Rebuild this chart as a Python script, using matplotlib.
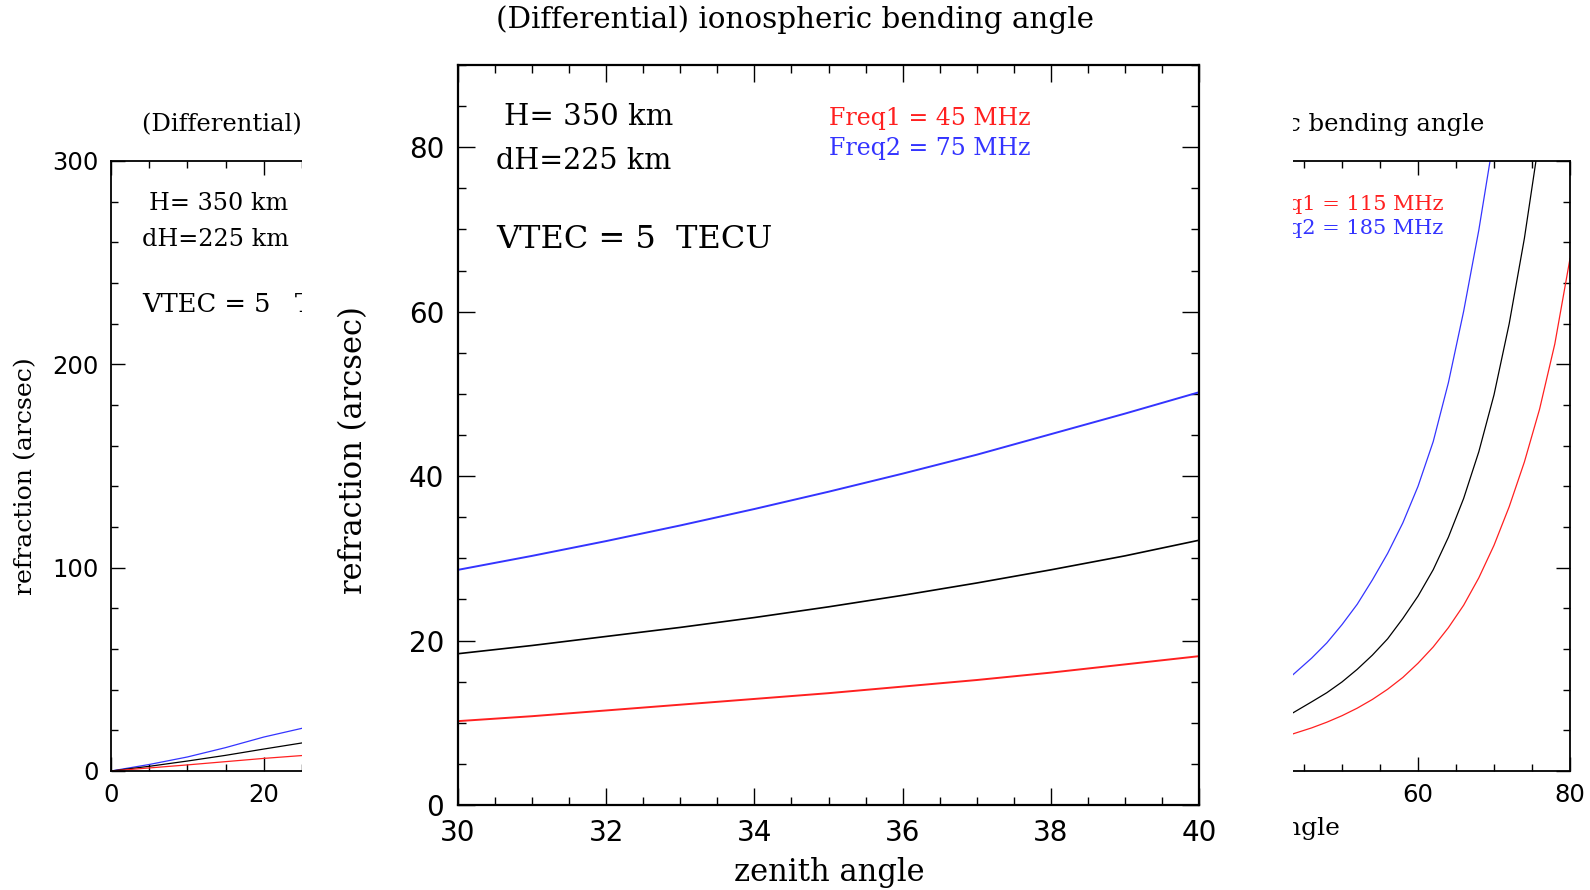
import matplotlib.pyplot as plt
from matplotlib.patches import Rectangle
from matplotlib.ticker import MultipleLocator

W, H = 1590, 890

# background chart (115 / 185 MHz), only its two outer pieces are visible
bg_blue_x = [0, 5, 10, 15, 20, 25, 43.5, 46, 48, 50, 52, 54, 56, 58, 60, 62, 64, 66, 68, 70]
bg_blue_y = [0, 3.2, 6.9, 11.5, 16.7, 21.0, 47.2, 55.5, 63, 72, 82, 94, 107, 122, 140, 162, 191, 226, 266, 312]
bg_black_x = [0, 5, 10, 15, 20, 25, 43.5, 46, 48, 50, 52, 54, 56, 58, 60, 62, 64, 66, 68, 70, 72, 74, 76]
bg_black_y = [0, 2.3, 4.9, 7.7, 10.8, 13.8, 28.5, 34, 38.5, 43.8, 50, 57, 65, 75, 86, 99, 115, 134, 157, 185, 220, 262, 312]
bg_red_x = [0, 5, 10, 15, 20, 25, 43.5, 46, 48, 50, 52, 54, 56, 58, 60, 62, 64, 66, 68, 70, 72, 74, 76, 78, 80]
bg_red_y = [0, 1.5, 3.0, 4.6, 6.2, 7.6, 18.2, 21.2, 24, 27.2, 30.9, 35.2, 40.2, 46, 53, 61, 70.5, 81.5, 95, 111, 130, 152, 178, 210, 252]

# zoomed chart (45 / 75 MHz), zenith angle 30..40
zx = [30, 31, 32, 33, 34, 35, 36, 37, 38, 39, 40]
z_blue = [28.6, 30.3, 32.1, 34.0, 36.0, 38.1, 40.3, 42.6, 45.1, 47.6, 50.2]
z_black = [18.4, 19.4, 20.5, 21.6, 22.8, 24.1, 25.5, 27.0, 28.6, 30.3, 32.2]
z_red = [10.2, 10.8, 11.5, 12.2, 12.9, 13.6, 14.4, 15.2, 16.1, 17.1, 18.1]

RED = '#ff2020'
BLUE = '#3434ff'
SERIF = ['DejaVu Serif']
SANS = ['DejaVu Sans']


def rect(l, t, r, b):
    return [l / W, 1 - b / H, (r - l) / W, (b - t) / H]


def fx(px):
    return px / W


def fy(py):
    return 1 - py / H


def style(ax, maj, mino, lab, pad, lw):
    ax.tick_params(which='both', direction='in', top=True, right=True, width=1.0)
    ax.tick_params(which='major', length=maj, labelsize=lab, pad=pad)
    ax.tick_params(which='minor', length=mino)
    for lbl in ax.get_xticklabels() + ax.get_yticklabels():
        lbl.set_family(SANS)
    for s in ax.spines.values():
        s.set_linewidth(lw)


fig = plt.figure(figsize=(W / 100, H / 100), dpi=100)

# ---- background pieces
axl = fig.add_axes(rect(111, 161, 302, 771), zorder=0)
axr = fig.add_axes(rect(1293, 161, 1570, 771), zorder=0)
for ax in (axl, axr):
    ax.plot(bg_blue_x, bg_blue_y, color=BLUE, lw=0.9)
    ax.plot(bg_black_x, bg_black_y, color='black', lw=0.9)
    ax.plot(bg_red_x, bg_red_y, color=RED, lw=0.9)
    ax.set_ylim(0, 300)
    ax.xaxis.set_major_locator(MultipleLocator(20))
    ax.xaxis.set_minor_locator(MultipleLocator(5))
    ax.yaxis.set_major_locator(MultipleLocator(100))
    ax.yaxis.set_minor_locator(MultipleLocator(20))
axl.set_xlim(0, 25)
axr.set_xlim(43.55, 80)
style(axl, 10, 5, 17.5, 9, 1.3)
style(axr, 10, 5, 17.5, 9, 1.3)
axl.spines['right'].set_visible(False)
axl.tick_params(which='both', right=False)
axr.spines['left'].set_visible(False)
axr.tick_params(which='both', left=False, labelleft=False)

bgt = dict(zorder=0.5, family=SERIF, va='center')
fig.text(fx(142), fy(124), '(Differential) ionospheric', fontsize=17.5, ha='left', **bgt)
fig.text(fx(1484), fy(124), 'ionospheric bending angle', fontsize=17.5, ha='right', **bgt)
fig.text(fx(149), fy(203), 'H= 350 km', fontsize=17.2, ha='left', **bgt)
fig.text(fx(142), fy(240), 'dH=225 km', fontsize=17.2, ha='left', **bgt)
fig.text(fx(142), fy(305), 'VTEC = 5   TECU', fontsize=18.5, ha='left', **bgt)
fig.text(fx(1443), fy(204), 'Freq1 = 115 MHz', fontsize=15, ha='right', color=RED, **bgt)
fig.text(fx(1443), fy(228), 'Freq2 = 185 MHz', fontsize=15, ha='right', color=BLUE, **bgt)
fig.text(fx(26), fy(476), 'refraction (arcsec)', fontsize=18.2, rotation=90, ha='center', **bgt)
fig.text(fx(1341), fy(829), 'angle', fontsize=18, ha='right', **bgt)

# white sheet of the zoomed chart covering the middle
fig.patches.append(Rectangle((fx(302), 0), fx(1293) - fx(302), 1, transform=fig.transFigure,
                             facecolor='white', edgecolor='none', zorder=1))

# ---- zoomed chart
ax = fig.add_axes(rect(458, 65, 1199, 805), zorder=2)
ax.plot(zx, z_blue, color=BLUE, lw=1.4)
ax.plot(zx, z_black, color='black', lw=1.2)
ax.plot(zx, z_red, color=RED, lw=1.4)
ax.set_xlim(30, 40)
ax.set_ylim(0, 90)
ax.xaxis.set_major_locator(MultipleLocator(2))
ax.xaxis.set_minor_locator(MultipleLocator(0.5))
ax.yaxis.set_major_locator(MultipleLocator(20))
ax.yaxis.set_minor_locator(MultipleLocator(5))
style(ax, 12, 6, 20, 10, 1.6)

zt = dict(zorder=3, family=SERIF, va='center')
fig.text(fx(795), fy(20), '(Differential) ionospheric bending angle', fontsize=21.2, ha='center', **zt)
fig.text(fx(504), fy(117), 'H= 350 km', fontsize=21, ha='left', **zt)
fig.text(fx(496), fy(161), 'dH=225 km', fontsize=20.6, ha='left', **zt)
fig.text(fx(496), fy(240), 'VTEC = 5  TECU', fontsize=23, ha='left', **zt)
fig.text(fx(829), fy(118), 'Freq1 = 45 MHz', fontsize=17, ha='left', color=RED, **zt)
fig.text(fx(829), fy(148), 'Freq2 = 75 MHz', fontsize=17, ha='left', color=BLUE, **zt)
fig.text(fx(354), fy(450), 'refraction (arcsec)', fontsize=22, rotation=90, ha='center', **zt)
fig.text(fx(829), fy(873), 'zenith angle', fontsize=22, ha='center', **zt)

fig.savefig('out.png', dpi=100, facecolor='white')
